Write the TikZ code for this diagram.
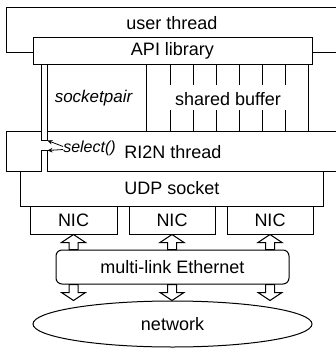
\documentclass[tikz,border=0pt]{standalone}
\usepackage{fontspec}
\setmainfont{Liberation Sans}
\usetikzlibrary{positioning,calc,shapes.geometric,arrows.meta}
\tikzset{blk/.style={draw=black,line width=1pt,fill=white,inner sep=0pt,font=\fontsize{18}{20}\selectfont}, lbl/.style={inner sep=0pt,font=\fontsize{18}{20}\selectfont}, edge/.style={draw=black,line width=1pt}, fat/.style={draw=black,line width=1pt,fill=white,line join=miter}, sel/.style={-{Stealth[length=5pt,width=4.5pt]},line width=0.8pt}}
\newcommand{\fatarrow}[3]{\draw[fat] (#1) -- ++(-12,#3) -- ++(7.5,0) -- ($(#2)+(-4.5,0)$) -- ++(9,0) -- ($(#1)+(4.5,#3)$) -- ++(7.5,0) -- cycle;}

\begin{document}
\begin{tikzpicture}[x=1pt,y=-1pt]
\useasboundingbox (0,0) rectangle (335,356);
\draw[edge] (336,7) -| (6,52) -- (33,52);
\draw[edge] (312,52) -- (336,52);
\node[lbl] (user) at (172,23) {user thread};
\node[blk,minimum width=279,minimum height=27] (api) at (172.5,50.5) {API library};
\draw[edge] (146,64) -- (146,131);
\draw[edge] (308,64) -- (308,131);
\foreach \x in {170,193,...,285}{
  \draw[edge] (\x,64) -- (\x,85);
  \draw[edge] (\x,110) -- (\x,131);
}
\node[lbl,font=\fontsize{17}{19}\selectfont\itshape] (pair) at (93.5,98) {socketpair};
\node[lbl] (buf) at (228,99) {shared buffer};
\draw[edge] (41,64) -- (41,140) -- (47,140) -- (47,64);
\draw[edge] (41,131) -| (6,171) -- (41,171) -- (41,150) -- (47,150) -- (47,171) -- (336,171);
\draw[edge] (47,131) -- (336,131);
\coordinate (pipetop) at (47.5,140.5);
\coordinate (pipebot) at (47.5,150.5);
\node[lbl,font=\fontsize{16}{18}\selectfont\itshape] (select) at (89.5,148) {select()};
\node[lbl] (ri2n) at (173,152) {RI2N thread};
\draw[sel] ([yshift=1.5pt]select.west) -- (pipetop);
\draw[sel] ([yshift=-1.5pt]select.west) -- (pipebot);
\node[lbl,minimum width=302,minimum height=35] (udp) at (172,188.5) {UDP socket};
\draw[edge] (udp.north west) |- (udp.south east) -- (udp.north east);
\node[blk,minimum width=87,minimum height=28] (nic1) at (73.5,220) {NIC};
\node[blk,minimum width=86,minimum height=28] (nic2) at (172,220) {NIC};
\node[blk,minimum width=86,minimum height=28] (nic3) at (270,220) {NIC};
\node[blk,rounded corners=6,minimum width=233,minimum height=34] (eth) at (172.5,267) {multi-link Ethernet};
\node[blk,ellipse,minimum width=279,minimum height=46] (net) at (172.5,324) {network};
\foreach \i in {1,2,3}{
  \path (eth.north -| nic\i.south) coordinate (et\i) (eth.south -| nic\i.south) coordinate (eb\i) (net.north -| nic\i.south) coordinate (nt\i);
  \fatarrow{nic\i.south}{et\i}{8}
  \fatarrow{nt\i}{eb\i}{-8}
}
\end{tikzpicture}
\end{document}
